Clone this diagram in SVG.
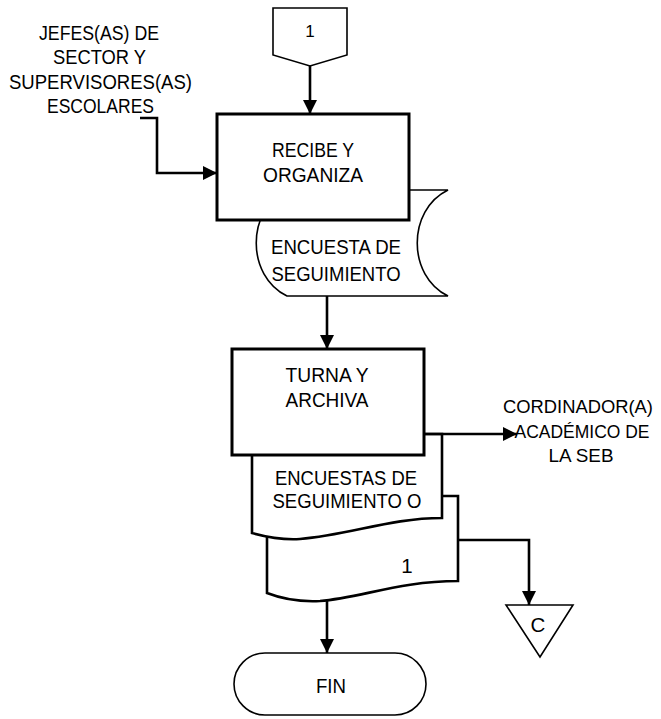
<svg xmlns="http://www.w3.org/2000/svg" width="661" height="719" viewBox="0 0 661 719">
  <style>
    text { font-family: "Liberation Sans", Arial, sans-serif; font-size: 20.5px; fill: #000; text-anchor: middle; }
    .side { font-size: 18.5px; }
    .box { fill: #fff; stroke: #000; stroke-width: 3; }
    .thin { fill: #fff; stroke: #000; stroke-width: 1.6; }
    .doc { fill: #fff; stroke: #000; stroke-width: 2.6; }
    .wire { fill: none; stroke: #000; stroke-width: 2.6; }
  </style>
  <defs>
    <marker id="head" viewBox="0 0 10 10" refX="10" refY="5" markerWidth="5.5" markerHeight="5.5" markerUnits="strokeWidth" orient="auto">
      <path d="M0,0 L10,5 L0,10 Z" fill="#000"/>
    </marker>
  </defs>

  <rect width="661" height="719" fill="#fff"/>

  <!-- incoming actor label -->
  <g id="actor-jefes">
    <text x="99" y="40" textLength="120" lengthAdjust="spacingAndGlyphs">JEFES(AS) DE</text>
    <text x="99.5" y="64.3" textLength="93" lengthAdjust="spacingAndGlyphs">SECTOR Y</text>
    <text x="100.5" y="88.6" textLength="183" lengthAdjust="spacingAndGlyphs">SUPERVISORES(AS)</text>
    <text x="100.5" y="113" textLength="107" lengthAdjust="spacingAndGlyphs">ESCOLARES</text>
  </g>

  <!-- off-page connector 1 -->
  <g id="offpage-1">
    <path class="thin" d="M273,8 L347,8 L347,55 L310,66 L273,55 Z"/>
    <text x="310" y="37" style="font-size:17px">1</text>
  </g>

  <!-- stored document behind the first process -->
  <g id="store-encuesta">
    <path class="thin" d="M287,190 L448,190 C407,210 407,276 448,296 L287,296 C246,276 246,210 287,190 Z"/>
    <text x="336" y="254" textLength="130" lengthAdjust="spacingAndGlyphs">ENCUESTA DE</text>
    <text x="336" y="281" textLength="129" lengthAdjust="spacingAndGlyphs">SEGUIMIENTO</text>
  </g>

  <g id="proc-recibe">
    <rect class="box" x="217" y="114" width="192" height="106"/>
    <text x="313" y="157" textLength="82" lengthAdjust="spacingAndGlyphs">RECIBE Y</text>
    <text x="313" y="182" textLength="100" lengthAdjust="spacingAndGlyphs">ORGANIZA</text>
  </g>

  <!-- multi-document stack -->
  <g id="docs-encuestas">
    <path class="doc" d="M267,530 L267,593 C285,600 300,602 320,601 C360,598 400,581 458,581 L458,496 L442,496"/>
    <path class="doc" d="M252,440 L252,533 C270,538 285,540 300,539 C350,535 390,518 442,518 L442,434 L424,434"/>
    <text x="346" y="485" textLength="142" lengthAdjust="spacingAndGlyphs">ENCUESTAS DE</text>
    <text x="347" y="508" textLength="149" lengthAdjust="spacingAndGlyphs">SEGUIMIENTO O</text>
    <text x="407" y="573">1</text>
  </g>

  <g id="proc-turna">
    <rect class="box" x="232" y="349" width="192" height="106"/>
    <text x="327" y="382" textLength="83" lengthAdjust="spacingAndGlyphs">TURNA Y</text>
    <text x="327" y="407" textLength="83" lengthAdjust="spacingAndGlyphs">ARCHIVA</text>
  </g>

  <g id="actor-coordinador">
    <text class="side" x="578" y="413" textLength="150" lengthAdjust="spacingAndGlyphs">CORDINADOR(A)</text>
    <text class="side" x="582" y="438" textLength="135" lengthAdjust="spacingAndGlyphs">ACADÉMICO DE</text>
    <text class="side" x="581" y="462" textLength="65" lengthAdjust="spacingAndGlyphs">LA SEB</text>
  </g>

  <!-- archive connector C -->
  <g id="archive-c">
    <path class="thin" d="M506,605 L573,605 L540,657 Z"/>
    <text x="538" y="632">C</text>
  </g>

  <g id="term-fin">
    <rect class="thin" x="234" y="653" width="192" height="62" rx="31" ry="31"/>
    <text x="331" y="693" textLength="30" lengthAdjust="spacingAndGlyphs">FIN</text>
  </g>

  <g id="connectors">
    <path class="wire" d="M310,66 L310,114" marker-end="url(#head)"/>
    <path class="wire" d="M140,118 L157,118 L157,173 L217,173" marker-end="url(#head)"/>
    <path class="wire" d="M327,296 L327,349" marker-end="url(#head)"/>
    <path class="wire" d="M424,434 L517,434" marker-end="url(#head)"/>
    <path class="wire" d="M458,540 L529,540 L529,605" marker-end="url(#head)"/>
    <path class="wire" d="M327,601 L327,653" marker-end="url(#head)"/>
  </g>
</svg>
